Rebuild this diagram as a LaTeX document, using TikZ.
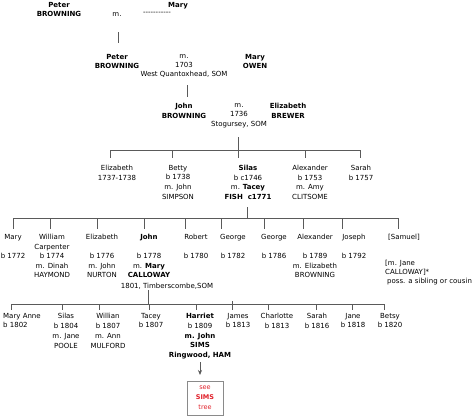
\documentclass[tikz,border=0pt]{standalone}
\usepackage{fontspec}
\setmainfont{DejaVu Sans}
\usetikzlibrary{arrows.meta}
\definecolor{linegray}{HTML}{5A5A5A}
\definecolor{boxgray}{HTML}{8A8A8A}
\definecolor{seered}{HTML}{E0202A}
\begin{document}
\begin{tikzpicture}[x=1pt,y=-1pt,
  txt/.style={font={\fontsize{7}{9.6}\selectfont}, align=center, anchor=north, inner sep=0pt},
  txtl/.style={font={\fontsize{7}{9.2}\selectfont}, align=left, anchor=north west, inner sep=0pt},
  conn/.style={draw=linegray, line width=0.7pt},
  seebox/.style={draw=boxgray, line width=0.8pt, minimum width=36pt, minimum height=34pt, inner sep=0pt,
     font={\fontsize{6.5}{10}\selectfont}, text=seered, align=center}]
\useasboundingbox (0,0) rectangle (474,416);
% ---------- generation 1
\node[txt] (p1) at (59,2) {\textbf{Peter}\\\textbf{BROWNING}};
\node[txt] (m1) at (117,12) {m.};
\node[txt] (w1) at (178,2) {\textbf{Mary}};
\node[txt] (w1d) at (157,12) {-{}-{}-{}-{}-{}-{}-{}-{}-{}-{}-};
\coordinate (d1a) at (118,32);
\coordinate (d1b) at (118,43);
\draw[conn] (d1a) -- (d1b);
% ---------- generation 2
\node[txt] (p2) at (117,54) {\textbf{Peter}\\\textbf{BROWNING}};
\node[txt, font={\fontsize{7}{9}\selectfont}] (m2) at (184,54) {m.\\1703\\West Quantoxhead, SOM};
\node[txt] (w2) at (255,54) {\textbf{Mary}\\\textbf{OWEN}};
\coordinate (d2a) at (187,85);
\coordinate (d2b) at (187,97);
\draw[conn] (d2a) -- (d2b);
% ---------- generation 3
\node[txt] (j3) at (184,103) {\textbf{John}\\\textbf{BROWNING}};
\node[txt] (m3) at (239,103) {m.\\1736\\Stogursey, SOM};
\node[txt] (w3) at (288,103) {\textbf{Elizabeth}\\\textbf{BREWER}};
\coordinate (d3a) at (238,137);
\coordinate (d3b) at (238,150);
\coordinate (b3l) at (110,150);
\coordinate (b3r) at (360,150);
\draw[conn] (d3a) -- (d3b);
\draw[conn] (b3l) -- (b3r);
\foreach \n/\xx in {c41/110, c42/172, c43/238, c44/305, c45/360}{
  \coordinate (\n t) at (\xx,150);
  \coordinate (\n b) at (\xx,158);
  \draw[conn] (\n t) -- (\n b);
}
% ---------- generation 4
\node[txt] (g4a) at (117,165) {Elizabeth\\1737-1738};
\node[txt] (g4b) at (178,165) {Betty\\b 1738\\m. John\\SIMPSON};
\node[txt] (g4c) at (248,165) {\textbf{Silas}\\b c1746\\m. \textbf{Tacey}\\\textbf{FISH\ \ c1771}};
\node[txt] (g4d) at (310,165) {Alexander\\b 1753\\m. Amy\\CLITSOME};
\node[txt] (g4e) at (361,165) {Sarah\\b 1757};
\coordinate (d4a) at (247,207);
\coordinate (d4b) at (247,218);
\coordinate (b4l) at (13,218);
\coordinate (b4r) at (398,218);
\draw[conn] (d4a) -- (d4b);
\draw[conn] (b4l) -- (b4r);
\foreach \n/\xx in {c51/13, c52/50, c53/97, c54/144, c55/185, c56/221, c57/264, c58/303, c59/342, c510/398}{
  \coordinate (\n t) at (\xx,218);
  \coordinate (\n b) at (\xx,229);
  \draw[conn] (\n t) -- (\n b);
}
% ---------- generation 5
\node[txt] (g5a) at (13,234) {Mary\\ \\b 1772};
\node[txt] (g5b) at (52,234) {William\\Carpenter\\b 1774\\m. Dinah\\HAYMOND};
\node[txt] (g5c) at (102,234) {Elizabeth\\ \\b 1776\\m. John\\NURTON};
\node[txt] (g5d) at (149,234) {\textbf{John}\\ \\b 1778\\m. \textbf{Mary}\\\textbf{CALLOWAY}};
\node[txt] (g5dm) at (167,283) {1801, Timberscombe,SOM};
\node[txt] (g5e) at (196,234) {Robert\\ \\b 1780};
\node[txt] (g5f) at (233,234) {George\\ \\b 1782};
\node[txt] (g5g) at (274,234) {George\\ \\b 1786};
\node[txt] (g5h) at (315,234) {Alexander\\ \\b 1789\\m. Elizabeth\\BROWNING};
\node[txt] (g5i) at (354,234) {Joseph\\ \\b 1792};
\node[txt] (g5j) at (404,234) {[Samuel]};
\node[txtl] (g5jm) at (385,260) {[m. Jane\\CALLOWAY]*\\\hspace{2pt}poss. a sibling or cousin};
\coordinate (d5a) at (148,290);
\coordinate (d5b) at (148,304);
\coordinate (b5l) at (11,304);
\coordinate (b5r) at (384,304);
\draw[conn] (d5a) -- (d5b);
\draw[conn] (b5l) -- (b5r);
\foreach \n/\xx in {c61/11, c62/62, c63/99, c64/149, c65/196, c66/232, c67/268, c68/316, c69/352, c610/384}{
  \coordinate (\n t) at (\xx,304);
  \coordinate (\n b) at (\xx,310);
  \draw[conn] (\n t) -- (\n b);
}
\coordinate (c66u) at (232,301);
\draw[conn] (c66u) -- (c66t);
% ---------- generation 6
\node[txtl] (g6a) at (3,313) {Mary Anne\\b 1802};
\node[txt, font={\fontsize{7}{10}\selectfont}] (g6b) at (66,313) {Silas\\b 1804\\m. Jane\\POOLE};
\node[txt, font={\fontsize{7}{10}\selectfont}] (g6c) at (108,313) {Willian\\b 1807\\m. Ann\\MULFORD};
\node[txt] (g6d) at (151,313) {Tacey\\b 1807};
\node[txt, font={\fontsize{7}{9.8}\selectfont}] (g6e) at (200,313) {\textbf{Harriet}\\b 1809\\\textbf{m. John}\\\textbf{SIMS}\\\textbf{Ringwood, HAM}};
\node[txt] (g6f) at (238,313) {James\\b 1813};
\node[txt] (g6g) at (277,313) {Charlotte\\b 1813};
\node[txt] (g6h) at (317,313) {Sarah\\b 1816};
\node[txt] (g6i) at (353,313) {Jane\\b 1818};
\node[txt] (g6j) at (390,313) {Betsy\\b 1820};
% ---------- arrow and box
\node[seebox] (see) at (205,398) {see\\\textbf{SIMS}\\tree};
\coordinate (arA) at (200,362);
\coordinate (arB) at (200,375);
\draw[conn, -{Stealth[length=5pt,width=4pt]}] (arA) -- (arB);
\end{tikzpicture}
\end{document}
